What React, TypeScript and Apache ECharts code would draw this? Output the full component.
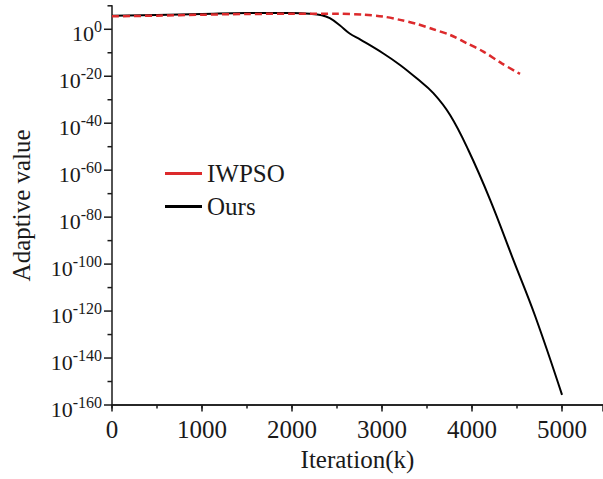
import React, { useEffect, useRef } from "react";
import * as echarts from "echarts";

// Iteration (k) and log10(adaptive value)
const oursIter = [0, 500, 1000, 1500, 2000, 2200, 2330, 2420, 2530, 2640, 2760, 3015, 3200, 3385, 3570, 3756, 3960, 4200, 4459, 4700, 5000];
const oursExp = [5.8, 6.1, 6.5, 6.9, 6.9, 6.6, 6.0, 4.7, 1.7, -1.8, -4.4, -10.3, -15.2, -20.9, -27.2, -36.5, -51.5, -72.5, -98.2, -122, -155.7];

const iwpsoIter = [0, 500, 1000, 1500, 2000, 2500, 2800, 3015, 3200, 3385, 3570, 3756, 3940, 4126, 4330, 4533];
const iwpsoExp = [5.5, 5.8, 6.2, 6.5, 6.6, 6.6, 6.2, 5.4, 4.0, 2.3, 0.0, -2.4, -5.9, -9.5, -14.5, -19];

// y-axis tick positions (exponents of 10)
const yMajorTicks = [-160, -140, -120, -100, -80, -60, -40, -20, 0];
const yMinorTicks = [-150, -130, -110, -90, -70, -50, -30, -10, 10];

const FONT = "'Liberation Serif', 'Times New Roman', serif";
const RED = "#dc2a2c";
const INK = "#1a1a1a";

export default function App() {
  const ref = useRef<HTMLDivElement>(null);
  useEffect(() => {
    if (!ref.current) return;
    const chart = echarts.init(ref.current, undefined, { renderer: "svg" });
    const line = { show: true, onZero: false, lineStyle: { color: INK, width: 1.5 } };
    chart.setOption({
      animation: false,
      backgroundColor: "#ffffff",
      textStyle: { fontFamily: FONT, color: INK },
      grid: { left: 112, right: 0, top: 5.8, bottom: 74, containLabel: false },
      legend: {
        orient: "vertical",
        left: 160,
        top: 156,
        itemWidth: 37,
        itemHeight: 3,
        itemGap: 8,
        textStyle: { fontFamily: FONT, fontSize: 25, color: INK, lineHeight: 25 },
        data: [
          { name: "IWPSO", icon: "rect", itemStyle: { color: RED, borderWidth: 0 } },
          { name: "Ours", icon: "rect", itemStyle: { color: "#000000", borderWidth: 0 } },
        ],
      },
      xAxis: [
        {
          type: "value",
          min: 0,
          max: 5455,
          interval: 500,
          name: "Iteration(k)",
          nameLocation: "middle",
          nameGap: 39,
          nameTextStyle: { fontFamily: FONT, fontSize: 25, color: INK },
          axisLine: line,
          axisTick: { show: true, inside: false, length: 3.5, lineStyle: { color: INK, width: 1.5 } },
          axisLabel: {
            fontFamily: FONT,
            fontSize: 25,
            color: INK,
            margin: 12,
            showMaxLabel: false,
            formatter: (v: number) => (v % 1000 === 0 ? String(v) : ""),
          },
          splitLine: { show: false },
        },
        {
          type: "value",
          position: "bottom",
          min: 0,
          max: 5455,
          interval: 1000,
          axisLine: line,
          axisTick: { show: true, inside: false, length: 6.5, lineStyle: { color: INK, width: 1.5 } },
          axisLabel: { show: false },
          splitLine: { show: false },
        },
      ],
      yAxis: {
        type: "value",
        position: "left",
        min: -160,
        max: 10,
        interval: 20,
        name: "Adaptive value",
        nameLocation: "middle",
        nameGap: 78,
        nameTextStyle: { fontFamily: FONT, fontSize: 25, color: INK },
        axisLine: line,
        axisTick: { show: false },
        axisLabel: {
          margin: 10,
          showMaxLabel: false,
          padding: 0,
          formatter: (v: number) => `{b|10}{s|${Math.round(v)}}`,
          rich: {
            b: { fontFamily: FONT, fontSize: 22, color: INK, lineHeight: 22, padding: [8, 0, 0, 0] },
            s: { fontFamily: FONT, fontSize: 16, color: INK, lineHeight: 16, verticalAlign: "top" },
          },
        },
        splitLine: { show: false },
      },
      series: [
        {
          name: "IWPSO",
          type: "line",
          showSymbol: false,
          symbol: "none",
          smooth: 0.3,
          data: iwpsoIter.map((x, i) => [x, iwpsoExp[i]]),
          lineStyle: { color: RED, width: 2.5, type: [7, 4] },
          itemStyle: { color: RED },
          z: 3,
        },
        {
          name: "Ours",
          type: "line",
          showSymbol: false,
          symbol: "none",
          smooth: 0.4,
          data: oursIter.map((x, i) => [x, oursExp[i]]),
          lineStyle: { color: "#000000", width: 2 },
          itemStyle: { color: "#000000" },
          z: 2,
        },
      ],
    });

    // y-axis ticks placed through the axis scale, drawn as thin filled rects
    const x0 = chart.convertToPixel({ xAxisIndex: 0 }, 0) as number;
    const mk = (vals: number[], len: number) =>
      vals.map((v) => {
        const py = chart.convertToPixel({ yAxisIndex: 0 }, v) as number;
        return {
          type: "rect",
          silent: true,
          z: 100,
          shape: { x: x0 - len, y: py - 0.75, width: len, height: 1.5 },
          style: { fill: INK },
        };
      });
    chart.setOption({ graphic: { elements: [...mk(yMajorTicks, 8), ...mk(yMinorTicks, 4.5)] } });

    return () => chart.dispose();
  }, []);
  return <div ref={ref} style={{ width: 603, height: 479, position: "absolute", left: 0, top: 0 }} />;
}
